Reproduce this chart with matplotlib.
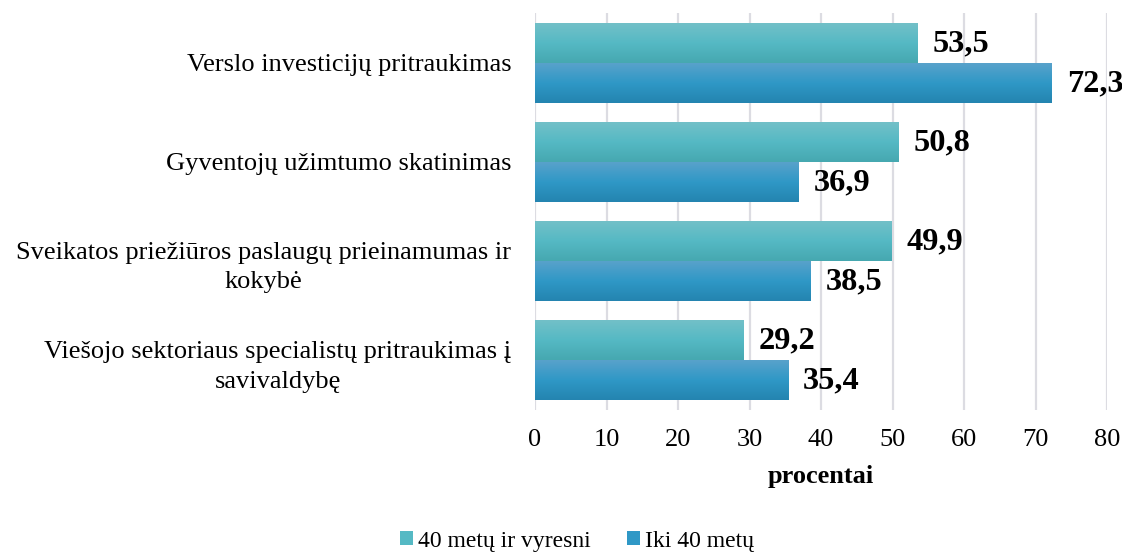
import numpy as np
import matplotlib
matplotlib.use("Agg")
import matplotlib.pyplot as plt
from matplotlib.colors import LinearSegmentedColormap
from matplotlib.patches import Patch

categories = [
    "Verslo investicijų pritraukimas",
    "Gyventojų užimtumo skatinimas",
    "Sveikatos priežiūros paslaugų prieinamumas ir\nkokybė",
    "Viešojo sektoriaus specialistų pritraukimas į\nsavivaldybę",
]
series_names = ["40 metų ir vyresni", "Iki 40 metų"]
older = [53.5, 50.8, 49.9, 29.2]
younger = [72.3, 36.9, 38.5, 35.4]
x_ticks = [0, 10, 20, 30, 40, 50, 60, 70, 80]

plt.rcParams["font.family"] = ["Liberation Serif", "DejaVu Serif"]

fig = plt.figure(figsize=(11.22, 5.52), dpi=100)
ax = fig.add_axes([535 / 1122, 1 - 410 / 552, (1107 - 535) / 1122, (410 - 13) / 552])

teal = LinearSegmentedColormap.from_list("teal", ["#72c0c8", "#55b9c4", "#46a8b0"])
blue = LinearSegmentedColormap.from_list("blue", ["#58a2cb", "#2f98c6", "#2484b0"])

h = 0.403
y = np.arange(len(categories))
b1 = ax.barh(y - h / 2, older, height=h, color="#55b9c4", zorder=2)
b2 = ax.barh(y + h / 2, younger, height=h, color="#2f98c6", zorder=2)

grad = np.linspace(0, 1, 64).reshape(-1, 1)
for bars, cmap in ((b1, teal), (b2, blue)):
    for bar in bars:
        x0, yb = bar.get_x(), bar.get_y()
        w, hh = bar.get_width(), bar.get_height()
        # inverted y-axis: first row of the image sits at the top of the bar
        ax.imshow(grad, cmap=cmap, aspect="auto", extent=(x0, x0 + w, yb + hh, yb),
                  zorder=3, interpolation="bilinear")

for bars, vals in ((b1, older), (b2, younger)):
    for bar, v in zip(bars, vals):
        ax.text(v + 2.1, bar.get_y() + bar.get_height() / 2 + 0.01, f"{v:.1f}".replace(".", ","),
                va="center", ha="left", fontsize=23.3, fontweight="bold", zorder=4)

ax.set_xlim(0, 80)
ax.set_ylim(len(categories) - 0.5, -0.5)
ax.set_xticks(x_ticks)
ax.set_xticklabels([str(t) for t in x_ticks], fontsize=19)
ax.set_yticks(y)
ax.set_yticklabels(categories, fontsize=19, ha="right", multialignment="center",
                   linespacing=1.45)
ax.tick_params(axis="both", length=0)
ax.tick_params(axis="x", pad=14)
ax.tick_params(axis="y", pad=17)
ax.grid(axis="x", color="#dcdce2", linewidth=1.6, zorder=0)
for s in ax.spines.values():
    s.set_visible(False)

ax.set_xlabel("procentai", fontsize=19, fontweight="bold", labelpad=10)

handles = [Patch(facecolor="#55b9c4"), Patch(facecolor="#2f98c6")]
fig.legend(handles, series_names, loc="center", bbox_to_anchor=(577 / 1122, 1 - 541 / 552),
           ncol=2, frameon=False, fontsize=17, handlelength=0.55, handleheight=0.55,
           handletextpad=0.2, columnspacing=1.55)

fig.savefig("out.png", dpi=100)
